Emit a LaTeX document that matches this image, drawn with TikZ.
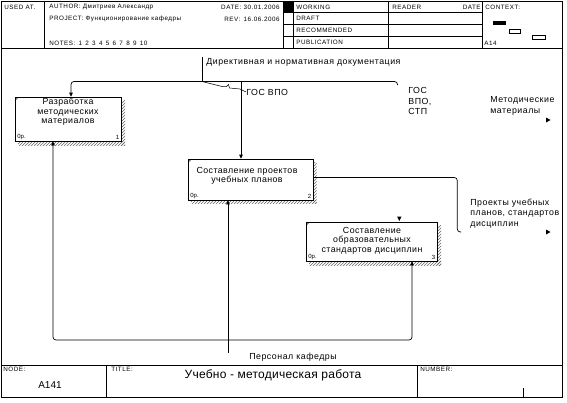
\documentclass[tikz,border=0pt]{standalone}
\usepackage{fontspec}
\setmainfont{Liberation Sans}
\newfontfamily\hfont[LetterSpace=8]{Liberation Sans}
\newfontfamily\lfont[LetterSpace=6]{Liberation Sans}
\newfontfamily\bfontx[LetterSpace=5]{Liberation Sans}
\newfontfamily\tfont[LetterSpace=2]{Liberation Sans}
\usetikzlibrary{arrows.meta,patterns}
\begin{document}
\begin{tikzpicture}[x=1pt,y=-1pt,line width=0.7pt,
  hdr/.style={font=\hfont\fontsize{6.3}{7}\selectfont,anchor=west,inner sep=0pt},
  lbl/.style={font=\lfont\fontsize{8.8}{11}\selectfont,anchor=west,align=left,inner sep=0pt},
  boxtxt/.style={font=\bfontx\fontsize{8.8}{9.5}\selectfont,align=center,inner sep=0pt},
  corner/.style={font=\fontsize{6}{7}\selectfont,inner sep=0pt},
  actbox/.style={draw,fill=white,inner sep=0pt},
  shadow/.style={pattern=north east lines,pattern color=black!60},
  arr/.style={-{Triangle[length=4pt,width=3.6pt]}},
  rc/.style={rounded corners=3pt}]
\useasboundingbox (0,0) rectangle (567,402);
% ---------- frame ----------
\draw (1,1) rectangle (562,397);
\draw (1,48) -- (562,48);
\draw (1,365) -- (562,365);
% header columns
\draw (44.5,1) -- (44.5,48);
\draw (283,1) -- (283,48);
\draw (293,1) -- (293,48);
\draw (388,1) -- (388,48);
\draw (482,1) -- (482,48);
\foreach \yy in {12.5,24.5,36.5} \draw (283,\yy) -- (482,\yy);
\fill (283,1) rectangle (293,12.5);
\node[hdr] (usedat) at (4,7) {USED AT.};
\node[hdr] (author) at (49,7) {AUTHOR: Дмитриев Александр};
\node[hdr] (project) at (49,19) {PROJECT: Функционирование кафедры};
\node[hdr] (notes) at (49,43) {NOTES: \,1 \,2 \,3 \,4 \,5 \,6 \,7 \,8 \,9 \,10};
\node[hdr,anchor=east] (date) at (280,7) {DATE: 30.01.2006};
\node[hdr] (rev) at (224,19) {REV:};
\node[hdr,anchor=east] (revdate) at (280,19) {16.06.2006};
\node[hdr] (working) at (296,7) {WORKING};
\node[hdr] (draft) at (296,18.5) {DRAFT};
\node[hdr] (recomm) at (296,30.5) {RECOMMENDED};
\node[hdr] (public) at (296,42.5) {PUBLICATION};
\node[hdr] (reader) at (392,7) {READER};
\node[hdr,anchor=east] (rdate) at (481,7) {DATE};
\node[hdr] (context) at (485,7) {CONTEXT:};
\node[hdr] (ctxnode) at (484,43) {A14};
\fill (493,21) rectangle (506,25);
\draw[line width=0.6pt] (509,29.5) rectangle (520.5,33.5);
\draw[line width=0.6pt] (532.5,35.5) rectangle (545,39.5);
% ---------- footer ----------
\draw (106.5,365) -- (106.5,397);
\draw (417,365) -- (417,397);
\draw (523,388) -- (523,397);
\node[hdr] (nodelbl) at (3,369.5) {NODE:};
\node[font=\fontsize{10}{12}\selectfont,inner sep=0pt] (nodenum) at (50,385) {A141};
\node[hdr] (titlelbl) at (111,369.5) {TITLE:};
\node[font=\tfont\fontsize{12}{14}\selectfont,inner sep=0pt] (title) at (273,375) {Учебно - методическая работа};
\node[hdr] (numberlbl) at (420,369.5) {NUMBER:};
% ---------- boxes ----------
\fill[shadow] (121,100) rectangle (125,145);
\fill[shadow] (18,141) rectangle (125,145);
\node[actbox,minimum width=106pt,minimum height=44pt] (b1) at (68,119) {};
\fill[shadow] (313,162) rectangle (316.5,203.5);
\fill[shadow] (191,200) rectangle (316.5,203.5);
\node[actbox,minimum width=125pt,minimum height=41pt] (b2) at (250.5,179.5) {};
\fill[shadow] (437,225) rectangle (441,265);
\fill[shadow] (309,261) rectangle (441,265);
\node[actbox,minimum width=131pt,minimum height=39pt] (b3) at (371.5,241.5) {};
\draw[line width=0.4pt] (16,99.5) -- (17.5,98);
\draw[line width=0.4pt] (189,161.5) -- (190.5,160);
\draw[line width=0.4pt] (307,224.5) -- (308.5,223);
\node[boxtxt] (t1) at (68,112) {Разработка\\методических\\материалов};
\node[boxtxt] (t2) at (247,176) {Составление проектов\\учебных планов};
\node[boxtxt] (t3) at (372,240.5) {Составление\\образовательных\\стандартов дисциплин};
\node[corner,anchor=west] (c1a) at (17,137) {0р.};
\node[corner,anchor=east] (c1b) at (119.5,137) {1};
\node[corner,anchor=west] (c2a) at (190,196) {0р.};
\node[corner,anchor=east] (c2b) at (311.5,196) {2};
\node[corner,anchor=west] (c3a) at (308,257) {0р.};
\node[corner,anchor=east] (c3b) at (435.5,257) {3};
% ---------- labels ----------
\node[lbl] (ctrl) at (206,62.5) {Директивная и нормативная документация};
\node[lbl] (gosvpo) at (246,92) {ГОС ВПО};
\node[lbl,font=\lfont\fontsize{8.8}{10.8}\selectfont] (gosstp) at (408,101) {ГОС\\ВПО,\\СТП};
\node[lbl,font=\lfont\fontsize{8.8}{11.7}\selectfont] (metod) at (490,106) {Методические\\материалы};
\node[lbl,font=\lfont\fontsize{8.8}{10.5}\selectfont] (proj) at (470,213.5) {Проекты учебных\\планов, стандартов\\дисциплин};
\node[font=\lfont\fontsize{8.8}{11}\selectfont,inner sep=0pt] (pers) at (293,357) {Персонал кафедры};
% ---------- connectors ----------
\coordinate (ctop) at (202,57);
\coordinate (j1) at (202,81.5);
\coordinate (j2) at (241,81.5);
\coordinate (gend) at (397.5,85);
\draw (ctop) -- (j1);
\draw[arr,rc] (j1) -- (71,81.5) -- (71,0 |- b1.north);
\draw[rc] (j1) -- (397.5,81.5) -- (gend);
\draw[arr] (j2) -- (241,0 |- b2.north);
\draw[line width=0.5pt] (j1) -- (222,86.5) -- (226.5,86.5) -- (228.5,84.5) -- (229.5,88) -- (240,89) -- (gosvpo.west);
% output of box 2
\coordinate (o2) at (b2.east |- 0,177.5);
\coordinate (o2end) at (461,232);
\draw[rc] (o2) -- (457.3,177.5) -- (457.3,232) -- (o2end);
% arrow marks at border
\fill (546,117.5) -- (550.5,120) -- (546,122.5) -- cycle;
\fill (546,229.5) -- (550.5,232) -- (546,234.5) -- cycle;
\fill (397,216.5) -- (401.5,216.5) -- (399.25,221) -- cycle;
% mechanism
\coordinate (mbot) at (228,353);
\coordinate (mj) at (228,340);
\draw[arr] (mbot) -- (228,0 |- b2.south);
\draw[arr,rc] (mj) -- (53,340) -- (53,0 |- b1.south);
\draw[arr,rc] (mj) -- (412,340) -- (412,0 |- b3.south);
\end{tikzpicture}
\end{document}
